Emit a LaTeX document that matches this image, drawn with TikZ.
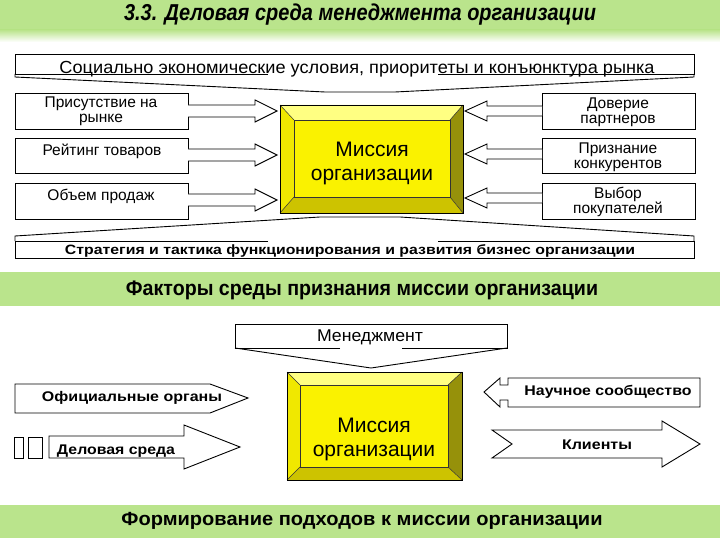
\documentclass[tikz,border=0pt]{standalone}
\usepackage{fontspec}
\setmainfont{Liberation Sans}
\usepackage{graphicx}
\usetikzlibrary{calc}
\definecolor{band}{RGB}{186,228,140}
\definecolor{yface}{RGB}{250,242,0}
\definecolor{ytop}{RGB}{255,255,130}
\definecolor{yleft}{RGB}{240,232,0}
\definecolor{yright}{RGB}{150,145,10}
\definecolor{ybot}{RGB}{205,195,0}
\newcommand{\fw}[2]{\resizebox{#1}{\height}{#2}}
\newcommand{\bevelbox}[8]{%
 \fill[ytop] (#1,#2) -- (#3,#2) -- (#7,#6) -- (#5,#6) -- cycle;
 \fill[yleft] (#1,#2) -- (#5,#6) -- (#5,#8) -- (#1,#4) -- cycle;
 \fill[yright] (#3,#2) -- (#3,#4) -- (#7,#8) -- (#7,#6) -- cycle;
 \fill[ybot] (#1,#4) -- (#3,#4) -- (#7,#8) -- (#5,#8) -- cycle;
 \fill[yface] (#5,#6) rectangle (#7,#8);
 \draw[black!80, line width=0.5pt] (#1,#2) -- (#5,#6) (#3,#2) -- (#7,#6) (#1,#4) -- (#5,#8) (#3,#4) -- (#7,#8);
 \draw[black!80, line width=0.5pt] (#5,#6) rectangle (#7,#8);
 \draw[black, line width=0.9pt] (#1,#2) rectangle (#3,#4);
}
\tikzset{
 ln/.style={draw=black, line width=0.9pt},
 boxnode/.style={draw=black, line width=0.9pt, fill=white, inner sep=0pt},
 lab/.style={inner sep=0pt, font=\fontsize{15.5}{15}\selectfont, align=center},
 blab/.style={inner sep=0pt, font=\fontsize{14}{14}\selectfont\bfseries},
 blockarrow/.style={draw=black, line width=0.9pt, fill=white},
}
\begin{document}
\begin{tikzpicture}[x=1pt,y=-1pt]
\useasboundingbox (0,0) rectangle (720,540);
\fill[white] (0,0) rectangle (720,540);

% title band
\fill[band] (0,0) rectangle (720,30);
\shade[top color=band, bottom color=white] (0,30) rectangle (720,42);
\node[inner sep=0pt, font=\fontsize{23}{23}\selectfont\bfseries\itshape] (title) at (360,15) {\fw{472pt}{3.3. Деловая среда менеджмента организации}};

% top callout
\fill[white] (15,54) rectangle (694,74);
\draw[ln] (268,74) -- (15,74) -- (15,54) -- (694,54) -- (694,74) -- (438,74);
\draw[ln] (15,74) -- (15,77) -- (325,92) -- (395,92) -- (694,77) -- (694,74);
\node[inner sep=0pt, anchor=base, font=\fontsize{17.5}{17.5}\selectfont] (soc) at (357,74) {\fw{595pt}{Социально экономические условия, приоритеты и конъюнктура рынка}};

% bottom callout (strategy)
\fill[white] (15,241) rectangle (694,258);
\draw[ln] (268,241) -- (15,241) -- (15,258) -- (694,258) -- (694,241) -- (438,241);
\draw[ln] (15,241) -- (15,236) -- (320,217) -- (400,217) -- (694,236) -- (694,241);
\node[inner sep=0pt, font=\fontsize{13.5}{13.5}\selectfont\bfseries] (strat) at (350,251) {\fw{570pt}{Стратегия и тактика функционирования и развития бизнес организации}};

% left boxes
\node[boxnode, minimum width=173pt, minimum height=36pt] (l1) at (101.5,111) {};
\node[boxnode, minimum width=173pt, minimum height=35pt] (l2) at (101.5,155.5) {};
\node[boxnode, minimum width=173pt, minimum height=36pt] (l3) at (101.5,201) {};
\node[lab] (t1) at (101,111.5) {Присутствие на\\рынке};
\node[lab] (t2) at (102,151) {Рейтинг товаров};
\node[lab] (t3) at (101,196) {Объем продаж};

% right boxes
\node[boxnode, minimum width=153pt, minimum height=36pt] (r1) at (618.5,111) {};
\node[boxnode, minimum width=153pt, minimum height=35pt] (r2) at (618.5,155.5) {};
\node[boxnode, minimum width=153pt, minimum height=36pt] (r3) at (618.5,201) {};
\node[lab] (u1) at (618,112.5) {Доверие\\партнеров};
\node[lab] (u2) at (618,157.5) {Признание\\конкурентов};
\node[lab] (u3) at (618,201.5) {Выбор\\покупателей};

% left arrows
\foreach \c in {111,155,200}{
 \fill[white] (188,\c-6) -- (255,\c-6) -- (255,\c-11) -- (277,\c) -- (255,\c+11) -- (255,\c+6) -- (188,\c+6) -- cycle;
 \draw[ln] (188,\c-6) -- (255,\c-6) -- (255,\c-11) -- (277,\c) -- (255,\c+11) -- (255,\c+6) -- (188,\c+6);
}
% right arrows
\foreach \c in {111,154,198}{
 \fill[white] (542,\c-5) -- (487,\c-5) -- (487,\c-10) -- (465,\c) -- (487,\c+10) -- (487,\c+5) -- (542,\c+5) -- cycle;
 \draw[ln] (542,\c-5) -- (487,\c-5) -- (487,\c-10) -- (465,\c) -- (487,\c+10) -- (487,\c+5) -- (542,\c+5);
}

% mission box 1
\bevelbox{280}{105}{463}{213}{294}{120}{450}{197}
\node[inner sep=0pt, align=center, font=\fontsize{21}{24}\selectfont] (m1) at (372,163) {Миссия\\организации};

% band 2
\fill[band] (0,272) rectangle (720,306);
\node[inner sep=0pt, font=\fontsize{21}{21}\selectfont\bfseries] (f2) at (362,290) {\fw{472pt}{Факторы среды признания миссии организации}};

% management callout
\fill[white] (235,324) rectangle (507,348);
\draw[ln] (340,348) -- (235,348) -- (235,324) -- (507,324) -- (507,348) -- (402,348);
\draw[ln] (235,348) -- (371,368) -- (507,348);
\node[inner sep=0pt, font=\fontsize{17}{17}\selectfont] (mgmt) at (370,337) {\fw{106pt}{Менеджмент}};

% mission box 2
\bevelbox{287}{372}{462}{480}{300}{385}{448}{467}
\node[inner sep=0pt, align=center, font=\fontsize{21}{24}\selectfont] (m2) at (374,439) {Миссия\\организации};

% official bodies arrow
\draw[blockarrow] (15,384) -- (210,384) -- (248,398) -- (210,413) -- (15,413) -- cycle;
\node[blab] (off) at (132,398) {\fw{180pt}{Официальные органы}};

% business environment arrow
\draw[ln, fill=white] (14,437) rectangle (23,458);
\draw[ln, fill=white] (28,437) rectangle (42,458);
\draw[blockarrow] (49,436) -- (184,436) -- (184,425) -- (240,447) -- (184,469) -- (184,458) -- (49,458) -- cycle;
\node[blab] (bus) at (116,451) {\fw{118pt}{Деловая среда}};

% scientific community arrow
\draw[blockarrow] (484,392) -- (500,378) -- (500,385) -- (508,385) -- (508,378) -- (700,378) -- (700,407) -- (508,407) -- (508,400) -- (500,400) -- (500,407) -- cycle;
\node[blab] (sci) at (608,392) {\fw{167pt}{Научное сообщество}};

% clients arrow
\draw[blockarrow] (492,430) -- (662,430) -- (662,421) -- (700,444) -- (662,467) -- (662,458) -- (492,458) -- (512,444) -- cycle;
\node[blab] (cli) at (597,445) {\fw{70pt}{Клиенты}};

% band 3
\fill[band] (0,505) rectangle (720,538);
\node[inner sep=0pt, font=\fontsize{19}{19}\selectfont\bfseries] (f3) at (362,521) {\fw{481pt}{Формирование подходов к миссии организации}};
\end{tikzpicture}
\end{document}
